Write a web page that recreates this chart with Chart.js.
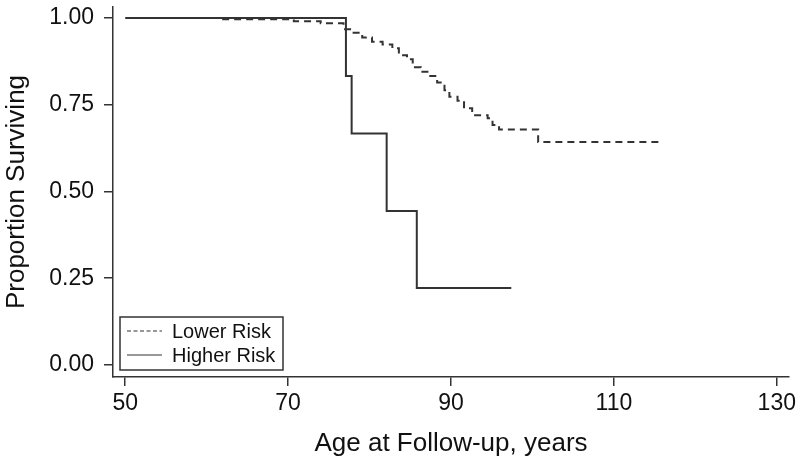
<!DOCTYPE html>
<html>
<head>
<meta charset="utf-8">
<script src="https://cdn.jsdelivr.net/npm/chart.js@4.4.0/dist/chart.umd.min.js"></script>
<style>
  body { margin: 0; background: #fff; }
  #wrap { width: 800px; height: 461px; }
</style>
</head>
<body>
<div id="wrap"><canvas id="kmChart"></canvas></div>
<script>
// age at each step (years) and the proportion surviving after it
const lowerAges = [61.9, 70.7, 74, 76.8, 77.9, 79.1, 80.3, 81.6, 82.8, 83.6, 84.6, 85.3, 86.3,
                   87.3, 88.3, 89.2, 89.8, 90.8, 91.6, 92.6, 94.5, 95.1, 95.9, 100.7, 115.6];
const lowerSurv = [0.997, 0.991, 0.985, 0.968, 0.958, 0.944, 0.932, 0.924, 0.913, 0.893, 0.881, 0.858, 0.845,
                   0.833, 0.814, 0.792, 0.773, 0.762, 0.740, 0.720, 0.711, 0.692, 0.679, 0.643, 0.643];
const higherAges = [50, 77.1, 77.8, 82.1, 85.8, 97.4];
const higherSurv = [1.0, 0.833, 0.667, 0.444, 0.222, 0.222];

const seriesLabels = ['Lower Risk', 'Higher Risk'];
const xTicks = [50, 70, 90, 110, 130];
const yTicks = [0, 0.25, 0.5, 0.75, 1];

const FONT = '"Liberation Sans", Arial, Helvetica, sans-serif';
const INK = '#333';

function toPoints(xs, ys) {
    return xs.map((x, i) => ({ x: x, y: ys[i] }));
}

// legend box sits inside the plot, bottom left
const insideLegend = {
    id: 'insideLegend',
    afterDraw(chart) {
        const ctx = chart.ctx;
        const area = chart.chartArea;
        const x = area.left + 7, y = area.bottom - 60, w = 163, h = 53;
        ctx.save();
        ctx.fillStyle = '#fff';
        ctx.fillRect(x, y, w, h);
        ctx.strokeStyle = INK;
        ctx.lineWidth = 1.5;
        ctx.strokeRect(x, y, w, h);
        ctx.font = '20px ' + FONT;
        ctx.textBaseline = 'middle';
        chart.data.datasets.forEach((ds, i) => {
            const rowY = y + 14 + i * 24;
            ctx.beginPath();
            ctx.setLineDash(ds.borderDash ? [4, 2.5] : []);
            ctx.lineWidth = 1.2;
            ctx.strokeStyle = INK;
            ctx.moveTo(x + 7, rowY);
            ctx.lineTo(x + 42, rowY);
            ctx.stroke();
            ctx.setLineDash([]);
            ctx.fillStyle = '#111';
            ctx.fillText(ds.label, x + 52, rowY + 1);
        });
        ctx.restore();
    }
};

const ctx = document.getElementById('kmChart').getContext('2d');

new Chart(ctx, {
    type: 'line',
    data: {
        datasets: [{
            label: seriesLabels[0],
            data: toPoints(lowerAges, lowerSurv),
            borderColor: INK,
            borderWidth: 2,
            borderDash: [7, 5],
            stepped: true,
            pointRadius: 0,
            fill: false
        }, {
            label: seriesLabels[1],
            data: toPoints(higherAges, higherSurv),
            borderColor: INK,
            borderWidth: 2,
            stepped: true,
            pointRadius: 0,
            fill: false
        }]
    },
    options: {
        responsive: true,
        maintainAspectRatio: false,
        animation: false,
        layout: { padding: { top: 7, right: 11, left: 0, bottom: 0 } },
        scales: {
            x: {
                type: 'linear',
                min: 48.5,
                max: 131.5,
                afterBuildTicks: scale => { scale.ticks = xTicks.map(v => ({ value: v })); },
                afterFit: scale => { scale.height = 84; scale.paddingLeft = 0; scale.paddingRight = 0; },
                grid: { display: true, drawOnChartArea: false, drawTicks: true, tickLength: 9, color: INK, lineWidth: 1.5 },
                border: { display: true, color: INK, width: 1.5 },
                ticks: { color: '#111', font: { family: FONT, size: 23 }, padding: 4, maxRotation: 0 },
                title: {
                    display: true,
                    text: 'Age at Follow-up, years',
                    color: '#111',
                    font: { family: FONT, size: 26 },
                    padding: { top: 0, bottom: 2 }
                }
            },
            y: {
                min: -0.035,
                max: 1.032,
                afterBuildTicks: scale => { scale.ticks = yTicks.map(v => ({ value: v })); },
                afterFit: scale => { scale.width = 113; scale.paddingTop = 0; scale.paddingBottom = 0; },
                grid: { display: true, drawOnChartArea: false, drawTicks: true, tickLength: 9, color: INK, lineWidth: 1.5 },
                border: { display: true, color: INK, width: 1.5 },
                ticks: {
                    color: '#111',
                    font: { family: FONT, size: 23 },
                    padding: 10,
                    callback: v => Number(v).toFixed(2)
                },
                title: {
                    display: true,
                    text: 'Proportion Surviving',
                    color: '#111',
                    font: { family: FONT, size: 26 },
                    padding: { top: 1, bottom: 0 }
                }
            }
        },
        plugins: {
            legend: { display: false },
            tooltip: { enabled: false }
        }
    },
    plugins: [insideLegend]
});
</script>
</body>
</html>
